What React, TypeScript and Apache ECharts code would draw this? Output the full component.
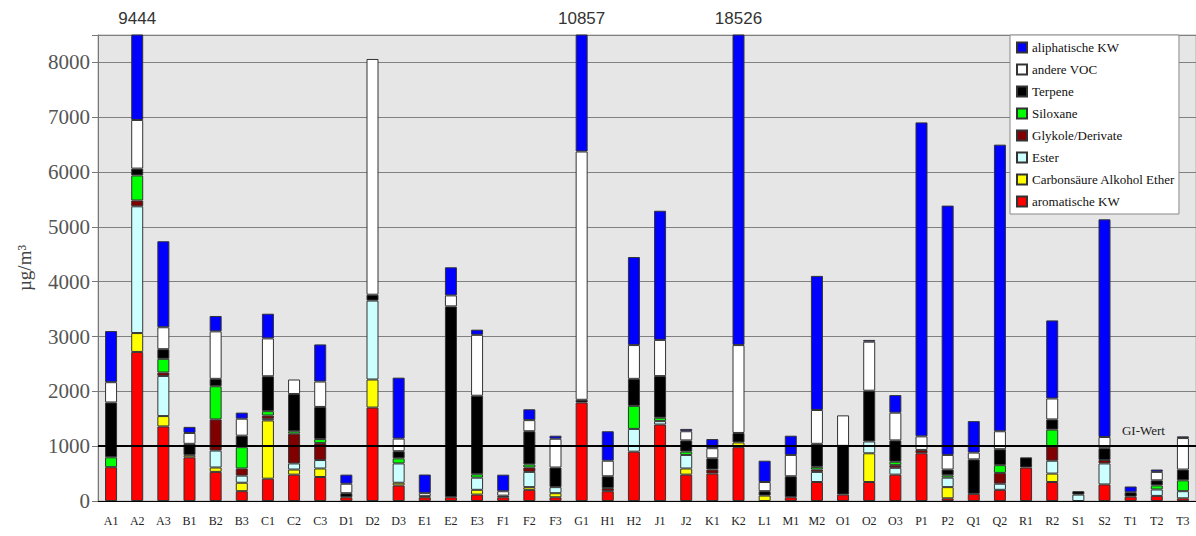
import React, { useEffect, useRef } from "react";
import * as echarts from "echarts";

const categories = ["A1","A2","A3","B1","B2","B3","C1","C2","C3","D1","D2","D3","E1","E2","E3","F1","F2","F3","G1","H1","H2","J1","J2","K1","K2","L1","M1","M2","O1","O2","O3","P1","P2","Q1","Q2","R1","R2","S1","S2","T1","T2","T3"];

const aromatischeKW = [617,2719,1360,796,531,179,407,481,438,68,1704,284,68,68,117,68,204,68,1796,179,900,1395,481,500,981,0,68,346,117,346,481,870,49,130,204,611,346,0,302,80,93,49];
const carbonsaeure = [0,344,189,40,80,154,1062,93,155,0,512,49,0,0,87,0,49,74,0,0,0,0,112,0,87,99,0,0,0,524,0,0,204,0,0,0,154,0,0,0,0,0];
const ester = [0,2312,732,0,309,130,30,111,154,0,1440,352,0,0,222,0,278,111,0,0,415,62,247,0,0,0,0,185,0,216,124,0,173,0,111,0,235,117,383,0,117,130];
const glykole = [0,106,63,0,568,130,60,543,309,0,0,0,0,0,0,30,80,0,0,56,0,0,0,74,0,0,0,43,0,0,49,62,0,0,197,0,259,0,62,0,0,0];
const siloxane = [180,457,250,0,605,389,80,44,74,0,0,93,0,0,62,0,56,0,0,0,420,62,61,0,0,0,0,49,0,0,62,0,43,0,142,0,308,0,0,0,74,198];
const terpene = [1000,125,175,207,135,210,636,679,586,74,107,130,20,3482,1432,0,605,358,50,216,493,759,204,204,173,80,383,420,889,926,389,0,105,629,290,185,186,62,216,80,93,197];
const andereVOC = [370,887,400,198,866,309,691,265,463,173,4300,230,55,200,1111,80,203,525,4529,284,616,660,167,185,1603,167,389,617,556,894,506,247,266,124,328,0,382,0,204,0,154,574];
const aliphatischeKW = [933,2494,1569,111,281,111,450,0,677,166,0,1112,340,513,94,302,198,55,4482,537,1606,2356,43,167,15682,389,351,2446,0,32,321,5727,4548,574,5228,0,1424,0,3971,105,43,31];

const yTicks = [0,1000,2000,3000,4000,5000,6000,7000,8000];
const yMax = 8500;
const guideValue = 1000;
const guideLabel = "GI-Wert";

const seriesDefs = [
  { name: "aromatische KW", data: aromatischeKW, color: "#ff0000" },
  { name: "Carbonsäure Alkohol Ether", data: carbonsaeure, color: "#ffff00" },
  { name: "Ester", data: ester, color: "#ccffff" },
  { name: "Glykole/Derivate", data: glykole, color: "#800000" },
  { name: "Siloxane", data: siloxane, color: "#00ff00" },
  { name: "Terpene", data: terpene, color: "#000000" },
  { name: "andere VOC", data: andereVOC, color: "#ffffff" },
  { name: "aliphatische KW", data: aliphatischeKW, color: "#0000ff" },
];

const serif = "Liberation Serif";

export default function App() {
  const ref = useRef<HTMLDivElement>(null);
  useEffect(() => {
    const chart = echarts.init(ref.current!, null, { renderer: "svg" });
    const series: any[] = seriesDefs.map((s, idx) => ({
      name: s.name,
      type: "bar",
      stack: "total",
      barWidth: 12,
      data: s.data.map((v) => (v === 0 ? null : v)),
      itemStyle: { color: s.color, borderColor: "#333", borderWidth: 1 },
      emphasis: { disabled: true },
      ...(idx === seriesDefs.length - 1
        ? {
            markLine: {
              silent: true,
              symbol: ["none", "none"],
              label: { show: false },
              lineStyle: { color: "#000", width: 2, type: "solid" },
              data: [{ yAxis: guideValue }],
            },
          }
        : {}),
    }));
    chart.setOption({
      animation: false,
      backgroundColor: "#ffffff",
      textStyle: { fontFamily: serif },
      grid: {
        left: 98,
        right: 0,
        top: 35,
        bottom: 35,
        show: true,
        backgroundColor: "#e6e6e6",
        borderColor: "#b0b0b0",
        borderWidth: 1,
      },
      legend: {
        orient: "vertical",
        left: 1010,
        top: 35,
        icon: "rect",
        itemWidth: 10,
        itemHeight: 10,
        itemGap: 9,
        padding: [6, 4, 6, 6],
        backgroundColor: "#ffffff",
        borderColor: "#888",
        borderWidth: 1,
        data: seriesDefs.map((s) => s.name).reverse(),
        textStyle: { fontFamily: serif, fontSize: 13, color: "#111" },
      },
      xAxis: {
        type: "category",
        data: categories,
        axisLine: { lineStyle: { color: "#000", width: 1 } },
        axisTick: { length: 5, lineStyle: { color: "#555" } },
        axisLabel: { interval: 0, fontFamily: serif, fontSize: 12, color: "#222", margin: 14 },
      },
      yAxis: {
        type: "value",
        min: 0,
        max: yMax,
        interval: 1000,
        name: "µg/m³",
        nameLocation: "middle",
        nameGap: 64,
        nameRotate: 90,
        nameTextStyle: { fontFamily: serif, fontSize: 19, color: "#444" },
        axisLine: { show: true, lineStyle: { color: "#777" } },
        axisTick: { show: true, length: 6, lineStyle: { color: "#777" } },
        axisLabel: {
          fontFamily: serif,
          fontSize: 21,
          color: "#555",
          margin: 8,
          formatter: (v: number) => (yTicks.indexOf(v) >= 0 ? String(v) : ""),
        },
        splitLine: { lineStyle: { color: "#808080", width: 1 } },
      },
      series,
    });

    const totals = categories.map((_, i) => seriesDefs.reduce((acc, s) => acc + s.data[i], 0));
    const graphics: any[] = [];
    totals.forEach((t, i) => {
      if (t > yMax) {
        const x = chart.convertToPixel({ xAxisIndex: 0 }, categories[i]) as number;
        graphics.push({
          type: "text",
          x,
          y: 18,
          style: {
            text: String(t),
            fontFamily: "Liberation Sans",
            fontSize: 17,
            fill: "#333",
            textAlign: "center",
            textVerticalAlign: "middle",
          },
        });
      }
    });
    const gy = chart.convertToPixel({ yAxisIndex: 0 }, guideValue) as number;
    const gx = chart.convertToPixel({ xAxisIndex: 0 }, categories[categories.length - 1]) as number;
    graphics.push({
      type: "text",
      x: gx - 18,
      y: gy - 16,
      style: {
        text: guideLabel,
        fontFamily: serif,
        fontSize: 13,
        fill: "#222",
        textAlign: "right",
        textVerticalAlign: "middle",
      },
    });
    chart.setOption({ graphic: graphics });
    return () => chart.dispose();
  }, []);
  return <div ref={ref} style={{ position: "absolute", left: 0, top: 0, width: 1196, height: 536 }} />;
}
